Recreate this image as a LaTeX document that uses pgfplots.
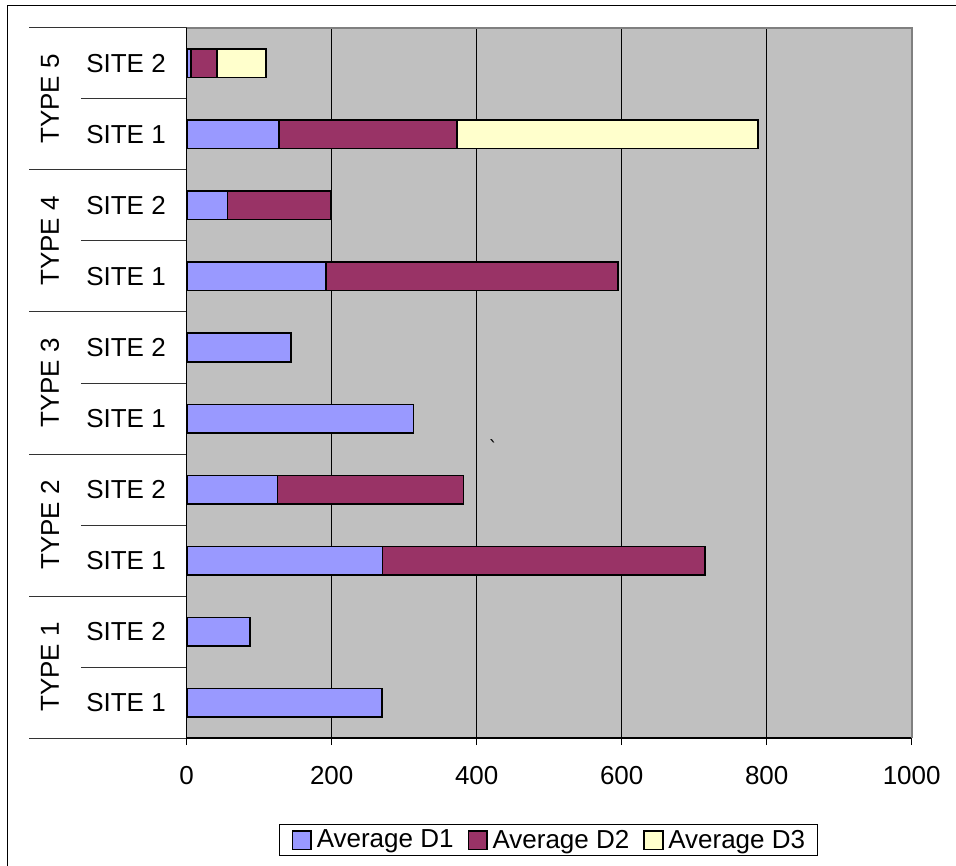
\documentclass[border=0pt]{standalone}
\usepackage{fontspec}
\setmainfont{Liberation Sans}
\newfontfamily\markfont{DejaVu Sans}
\usepackage{pgfplots}
\usepackage{pgfplotstable}
\pgfplotsset{compat=1.18}

\definecolor{dOne}{HTML}{9999FF}
\definecolor{dTwo}{HTML}{993366}
\definecolor{dThree}{HTML}{FFFFCC}
\definecolor{plotbg}{HTML}{C0C0C0}
\definecolor{frameGray}{HTML}{808080}

% rows: 0 = TYPE 1 / SITE 1 ... 9 = TYPE 5 / SITE 2
\pgfplotstableread{
row D1  D2  D3
0   269 0   0
1   87  0   0
2   270 445 0
3   125 257 0
4   313 0   0
5   144 0   0
6   192 403 0
7   56  143 0
8   127 246 415
9   6   36  67
}\sitedata

\newcommand{\chartfont}{\fontsize{19.5}{23}\selectfont}

\begin{document}
\begin{tikzpicture}
\useasboundingbox (0pt,0pt) rectangle (717pt,648.75pt);
% chart frame
\draw[black, line width=0.75pt] (5.25pt,-10pt) -- (5.25pt,644.25pt) -- (730pt,644.25pt);

\begin{axis}[
  at={(140.025pt,95.25pt)}, anchor=south west,
  scale only axis,
  width=543.75pt, height=532.5pt,
  xmin=0, xmax=1000, ymin=-0.5, ymax=9.5,
  clip=false,
  xbar stacked,
  bar width=0.4,
  axis background/.style={fill=plotbg},
  axis line style={draw=none},
  xtick={0,200,...,1000},
  xtick pos=bottom,
  tick align=outside,
  major tick length=5.25pt,
  xtick style={black, line width=0.75pt},
  xmajorgrids,
  major grid style={black, line width=0.75pt},
  xticklabel style={font=\chartfont, inner sep=0pt, yshift=-16pt,
    /pgf/number format/1000 sep={}},
  /pgf/number format/assume math mode=true,
  ytick={0,...,9},
  yticklabels={SITE 1,SITE 2,SITE 1,SITE 2,SITE 1,SITE 2,SITE 1,SITE 2,SITE 1,SITE 2},
  ytick style={draw=none},
  yticklabel style={font=\chartfont, inner sep=0pt, anchor=east, xshift=-10.25pt},
  legend columns=3,
  legend style={at={(0.499,-0.1437)}, anchor=center, draw=black,
    line width=0.75pt, fill=white, font=\chartfont,
    inner xsep=9pt, inner ysep=4pt,
    nodes={inner sep=0pt},
    /tikz/every odd column/.append style={column sep=3.5pt},
    /tikz/every even column/.append style={column sep=10.5pt}},
  legend cell align=left,
]
\addplot[fill=dOne, draw=black, line width=1.2pt,
  legend image code/.code={\draw[fill=dOne,draw=black,line width=1.2pt] (0pt,-7pt) rectangle (14pt,7pt);}]
  table[x=D1, y=row] {\sitedata};
\addplot[fill=dTwo, draw=black, line width=1.2pt,
  legend image code/.code={\draw[fill=dTwo,draw=black,line width=1.2pt] (0pt,-7pt) rectangle (14pt,7pt);}]
  table[x=D2, y=row] {\sitedata};
\addplot[fill=dThree, draw=black, line width=1.2pt,
  legend image code/.code={\draw[fill=dThree,draw=black,line width=1.2pt] (0pt,-7pt) rectangle (14pt,7pt);}]
  table[x=D3, y=row] {\sitedata};
\legend{Average D1,Average D2,Average D3}

% plot area border
\draw[frameGray, line width=1.5pt] (rel axis cs:0,1) -- (rel axis cs:1,1) -- (rel axis cs:1,0);
\draw[black, line width=1pt] (rel axis cs:0,1) -- (rel axis cs:0,0) -- (rel axis cs:1,0);

% category separators on the left: short ones between sites, long ones between types
\draw[black!80, line width=0.75pt] (axis cs:-145.8,0.5) -- (axis cs:0,0.5);
\draw[black!80, line width=0.75pt] (axis cs:-145.8,2.5) -- (axis cs:0,2.5);
\draw[black!80, line width=0.75pt] (axis cs:-145.8,4.5) -- (axis cs:0,4.5);
\draw[black!80, line width=0.75pt] (axis cs:-145.8,6.5) -- (axis cs:0,6.5);
\draw[black!80, line width=0.75pt] (axis cs:-145.8,8.5) -- (axis cs:0,8.5);
\draw[black!80, line width=0.75pt] (axis cs:-217.5,-0.5) -- (axis cs:0,-0.5);
\draw[black!80, line width=0.75pt] (axis cs:-217.5,1.5) -- (axis cs:0,1.5);
\draw[black!80, line width=0.75pt] (axis cs:-217.5,3.5) -- (axis cs:0,3.5);
\draw[black!80, line width=0.75pt] (axis cs:-217.5,5.5) -- (axis cs:0,5.5);
\draw[black!80, line width=0.75pt] (axis cs:-217.5,7.5) -- (axis cs:0,7.5);
\draw[black!80, line width=0.75pt] (axis cs:-217.5,9.5) -- (axis cs:0,9.5);

% group labels
\node[rotate=90, font=\chartfont, inner sep=0pt] at (axis cs:-188.6,0.5) {TYPE 1};
\node[rotate=90, font=\chartfont, inner sep=0pt] at (axis cs:-188.6,2.5) {TYPE 2};
\node[rotate=90, font=\chartfont, inner sep=0pt] at (axis cs:-188.6,4.5) {TYPE 3};
\node[rotate=90, font=\chartfont, inner sep=0pt] at (axis cs:-188.6,6.5) {TYPE 4};
\node[rotate=90, font=\chartfont, inner sep=0pt] at (axis cs:-188.6,8.5) {TYPE 5};

\node[font=\markfont\fontsize{14}{16}\selectfont, inner sep=0pt] at (axis cs:423,3.6) {\symbol{"02CB}};
\end{axis}
\end{tikzpicture}
\end{document}
